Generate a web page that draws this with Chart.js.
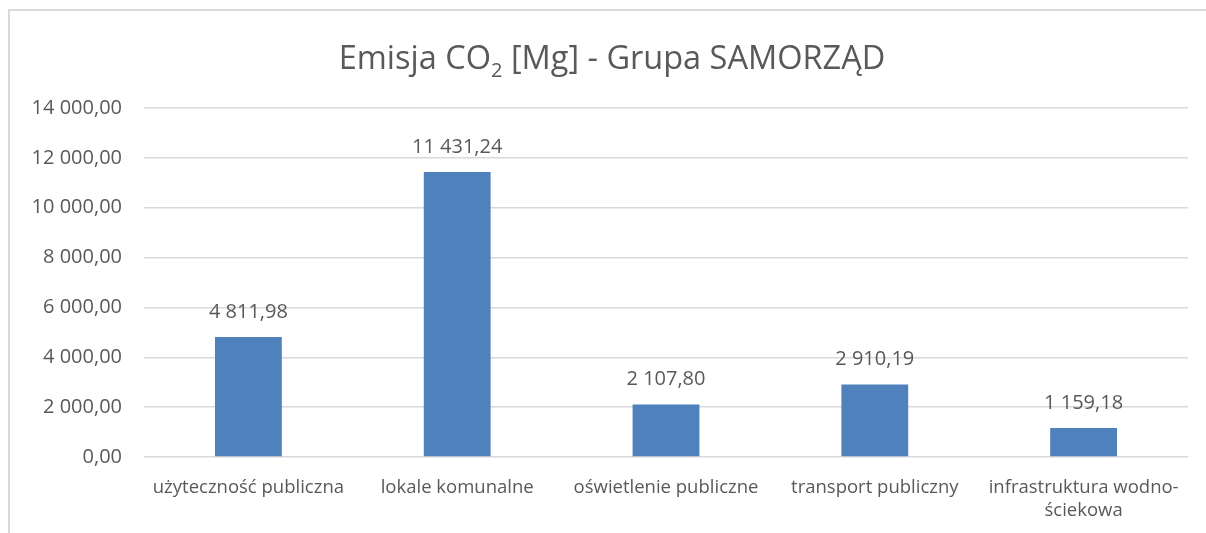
<!DOCTYPE html>
<html>
<head>
<meta charset="utf-8">
<script src="https://cdn.jsdelivr.net/npm/chart.js@4/dist/chart.umd.min.js"></script>
<style>
  html, body { margin: 0; padding: 0; background: #fff; overflow: hidden; }
  #frame { position: absolute; left: 8px; top: 9px; width: 1220px; height: 560px; border: 2px solid #d9d9d9; box-sizing: border-box; }
  #wrap { position: absolute; left: 0; top: 0; width: 1206px; height: 533px; }
</style>
</head>
<body>
<div id="frame"></div>
<div id="wrap"><canvas id="chart"></canvas></div>
<script>
const categories = ['użyteczność publiczna', 'lokale komunalne', 'oświetlenie publiczne', 'transport publiczny', ['infrastruktura wodno-', 'ściekowa']];
const emissions = [4811.98, 11431.24, 2107.80, 2910.19, 1159.18];
const yMax = 14000;
const yStep = 2000;

const FONT = '"Open Sans", "DejaVu Sans", sans-serif';
const TEXT = '#595959';

const plFormat = (v) => {
    const [intPart, dec] = Math.abs(v).toFixed(2).split('.');
    return intPart.replace(/\B(?=(\d{3})+(?!\d))/g, ' ') + ',' + dec;
};

// title with a subscript 2
const titlePlugin = {
    id: 'coTitle',
    afterDraw(chart) {
        const ctx = chart.ctx;
        const parts = [['Emisja CO', 32.5, 0], ['2', 20, 8], [' [Mg] - Grupa SAMORZĄD', 32.5, 0]];
        ctx.save();
        ctx.fillStyle = TEXT;
        ctx.textBaseline = 'alphabetic';
        ctx.textAlign = 'left';
        let total = 0;
        parts.forEach(p => { ctx.font = `${p[1]}px ${FONT}`; total += ctx.measureText(p[0]).width; });
        let x = 612 - total / 2;
        const base = 69;
        parts.forEach(p => {
            ctx.font = `${p[1]}px ${FONT}`;
            ctx.fillText(p[0], x, base + p[2]);
            x += ctx.measureText(p[0]).width;
        });
        ctx.restore();
    }
};

const valueLabels = {
    id: 'valueLabels',
    afterDatasetsDraw(chart) {
        const ctx = chart.ctx;
        ctx.save();
        ctx.font = `20px ${FONT}`;
        ctx.fillStyle = TEXT;
        ctx.textAlign = 'center';
        ctx.textBaseline = 'middle';
        chart.getDatasetMeta(0).data.forEach((bar, i) => {
            ctx.fillText(plFormat(emissions[i]), bar.x, bar.y - 25);
        });
        ctx.restore();
    }
};

new Chart(document.getElementById('chart'), {
    type: 'bar',
    data: {
        labels: categories,
        datasets: [{ data: emissions, backgroundColor: '#4f81bd', categoryPercentage: 1, barPercentage: 0.32 }]
    },
    options: {
        responsive: true,
        maintainAspectRatio: false,
        animation: false,
        layout: { padding: { left: 0, right: 18, top: 108, bottom: 0 } },
        plugins: { legend: { display: false }, tooltip: { enabled: false } },
        scales: {
            x: {
                grid: { display: false },
                border: { display: false },
                ticks: { color: TEXT, font: { family: FONT, size: 18.5, lineHeight: 1.25 }, padding: 11, maxRotation: 0, autoSkip: false },
                afterFit: s => { s.height = 76; }
            },
            y: {
                min: 0,
                max: yMax,
                grid: { color: '#d9d9d9', lineWidth: 1.5, drawTicks: false },
                border: { display: false },
                ticks: { stepSize: yStep, color: TEXT, font: { family: FONT, size: 20 }, padding: 22, callback: v => plFormat(v) },
                afterFit: s => { s.width = 144; }
            }
        }
    },
    plugins: [titlePlugin, valueLabels]
});
</script>
</body>
</html>
